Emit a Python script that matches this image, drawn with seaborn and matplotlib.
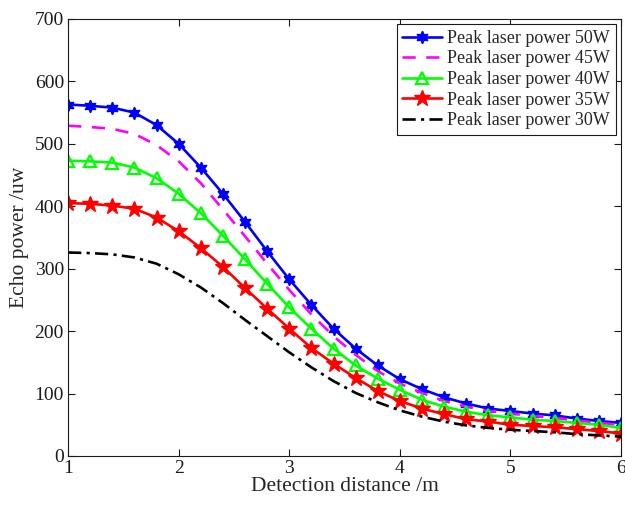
import numpy as np
import pandas as pd
import seaborn as sns
from matplotlib import pyplot as plt

# detection distance (m)
distance = [1.0, 1.2, 1.4, 1.6, 1.8, 2.0, 2.2, 2.4, 2.6, 2.8, 3.0, 3.2, 3.4,
            3.6, 3.8, 4.0, 4.2, 4.4, 4.6, 4.8, 5.0, 5.2, 5.4, 5.6, 5.8, 6.0]

# echo power (uw) for each peak laser power
p50 = [563, 561, 558, 550, 530, 500, 462, 420, 375, 328, 283, 242, 204,
       172, 145, 123, 107, 94, 84, 76, 72, 68, 65, 60, 56, 53]
p45 = [529, 527, 524, 516, 498, 472, 437, 395, 352, 308, 266, 227, 192,
       162, 136, 116, 101, 88, 79, 72, 68, 64, 61, 57, 53, 50]
p40 = [473, 472, 470, 462, 445, 420, 389, 353, 315, 276, 238, 204, 172,
       145, 124, 106, 90, 79, 71, 65, 62, 58, 56, 53, 50, 45]
p35 = [405, 404, 401, 396, 382, 360, 333, 303, 269, 236, 204, 173, 148,
       125, 104, 88, 76, 67, 59, 55, 50, 48, 46, 43, 40, 36]
p30 = [326, 325, 323, 318, 308, 291, 270, 245, 218, 192, 166, 142, 120,
       101, 86, 73, 63, 55, 49, 45, 42, 40, 38, 35, 33, 31]

labels = ['Peak laser power 50W', 'Peak laser power 45W', 'Peak laser power 40W',
          'Peak laser power 35W', 'Peak laser power 30W']

sns.set_style('ticks')
plt.rcParams['font.family'] = ['Liberation Serif', 'DejaVu Serif']
plt.rcParams['xtick.direction'] = 'in'
plt.rcParams['ytick.direction'] = 'in'
plt.rcParams['xtick.top'] = True
plt.rcParams['ytick.right'] = True

fig = plt.figure(figsize=(6.25, 5.08), dpi=100)
ax = fig.add_axes([0.109, 0.1024, 0.8846, 0.8602])

styles = [
    dict(color='#0000ff', ls='-', marker=(6, 1, 0), ms=9, mfc='#0000ff'),
    dict(color='#ff00ff', ls=(0, (5, 4)), marker=None),
    dict(color='#00ff00', ls='-', marker='^', ms=8, mfc='none', mew=1.6),
    dict(color='#ff0000', ls='-', marker='*', ms=12, mfc='#ff0000'),
    dict(color='#000000', ls=(0, (5, 2, 1.2, 2)), marker=None),
]

for vals, lab, st in zip([p50, p45, p40, p35, p30], labels, styles):
    df = pd.DataFrame({'distance': distance, 'power': vals})
    kw = dict(color=st['color'], linestyle=st['ls'], linewidth=1.9)
    if st['marker'] is not None:
        kw.update(marker=st['marker'], markersize=st['ms'],
                  markerfacecolor=st['mfc'], markeredgecolor=st['color'],
                  markeredgewidth=st.get('mew', 1.0))
    sns.lineplot(data=df, x='distance', y='power', ax=ax, label=lab, **kw)

ax.set_xlim(1, 6)
ax.set_ylim(0, 700)
ax.set_xticks([1, 2, 3, 4, 5, 6])
ax.set_yticks(np.arange(0, 701, 100))
ax.tick_params(labelsize=14, length=5, width=0.8, colors='#1a1a1a', pad=3)
for sp in ax.spines.values():
    sp.set_visible(True)
    sp.set_linewidth(0.8)
    sp.set_color('#1a1a1a')

ax.set_xlabel('Detection distance /m', fontsize=15.5, labelpad=0)
ax.set_ylabel('Echo power /uw', fontsize=15.5, labelpad=4)

leg = ax.legend(loc='upper right', fontsize=13, frameon=True, fancybox=False,
                edgecolor='#1a1a1a', framealpha=1, handlelength=2.2,
                borderpad=0.3, labelspacing=0.2, handletextpad=0.3,
                borderaxespad=0.3)
leg.get_frame().set_linewidth(0.8)

fig.savefig('out.png', dpi=100)
